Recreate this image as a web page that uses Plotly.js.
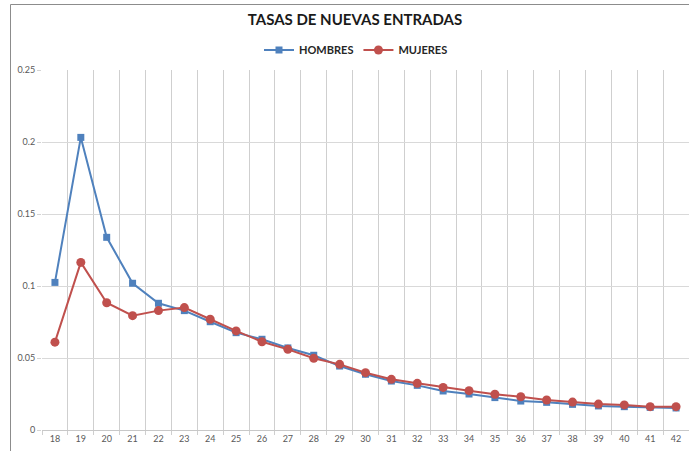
<!DOCTYPE html>
<html>
<head>
<meta charset="utf-8">
<script src="https://cdn.plot.ly/plotly-3.0.1.min.js"></script>
<style>html,body{margin:0;padding:0;background:#fff;}#chart{width:689px;height:451px;}</style>
</head>
<body>
<div id="chart"></div>
<script>
const edades = ["18","19","20","21","22","23","24","25","26","27","28","29","30","31","32","33","34","35","36","37","38","39","40","41","42"];
const hombres = [0.1025,0.2032,0.1338,0.1019,0.0880,0.0829,0.0752,0.0676,0.0630,0.0570,0.0519,0.0444,0.0387,0.0340,0.0310,0.0271,0.0250,0.0225,0.0201,0.0192,0.0178,0.0167,0.0162,0.0157,0.0153];
const mujeres = [0.0610,0.1164,0.0884,0.0794,0.0829,0.0850,0.0769,0.0688,0.0613,0.0560,0.0498,0.0456,0.0398,0.0352,0.0324,0.0296,0.0273,0.0248,0.0231,0.0208,0.0194,0.0180,0.0174,0.0162,0.0162];
const yTicks = [0, 0.05, 0.1, 0.15, 0.2, 0.25];
const yTickText = ["0", "0.05", "0.1", "0.15", "0.2", "0.25"];

const traces = [
  {x: edades, y: hombres, name: "HOMBRES", type: "scatter", mode: "lines+markers",
   line: {color: "#4F81BD", width: 2}, marker: {symbol: "square", size: 7, color: "#4F81BD"}},
  {x: edades, y: mujeres, name: "MUJERES", type: "scatter", mode: "lines+markers",
   line: {color: "#C0504D", width: 2}, marker: {symbol: "circle", size: 9, color: "#C0504D"}}
];

const L = 42, R = 0, T = 70, B = 21, W = 689, H = 451;
const pw = W - L - R, ph = H - T - B;
const px = v => (v - L) / pw;
const py = v => (H - B - v) / ph;

const layout = {
  width: W, height: H,
  margin: {l: L, r: R, t: T, b: B, pad: 0},
  paper_bgcolor: "#fff", plot_bgcolor: "#fff",
  font: {family: "Lato, 'Liberation Sans', sans-serif", color: "#595959", size: 9},
  title: {text: "TASAS DE NUEVAS ENTRADAS", font: {family: "Lato, 'Liberation Sans', sans-serif", size: 15, weight: "bold", color: "#1a1a1a"},
          x: 355 / W, xanchor: "center", xref: "container", y: 1 - 20 / H, yanchor: "middle", yref: "container"},
  showlegend: true,
  legend: {orientation: "h", x: px(356), xanchor: "center", y: py(50), yanchor: "middle",
           font: {family: "Lato, 'Liberation Sans', sans-serif", size: 11, weight: "bold", color: "#262626"},
           itemwidth: 30, bgcolor: "rgba(0,0,0,0)"},
  xaxis: {type: "category", tickson: "boundaries", range: [-0.5, 24.5],
          showgrid: true, gridcolor: "#cfcfcf", gridwidth: 1,
          ticks: "outside", ticklen: 4, tickcolor: "#cfcfcf",
          showline: true, linecolor: "#c8c8c8", linewidth: 1,
          tickfont: {size: 9, color: "#595959"}, fixedrange: true},
  yaxis: {range: [0, 0.25], tickvals: yTicks, ticktext: yTickText,
          showgrid: true, gridcolor: "#d9d9d9", gridwidth: 1, zeroline: false,
          ticks: "outside", ticklen: 4, tickcolor: "#d4d4d4",
          showline: false, tickfont: {size: 9, color: "#595959"}, fixedrange: true},
  shapes: [
    {type: "line", xref: "paper", yref: "paper", x0: px(10.5), x1: px(10.5), y0: py(460), y1: py(4.5), line: {color: "#8c8c8c", width: 1}},
    {type: "line", xref: "paper", yref: "paper", x0: px(10.5), x1: px(700), y0: py(4.5), y1: py(4.5), line: {color: "#8c8c8c", width: 1}}
  ]
};

Plotly.newPlot("chart", traces, layout, {displayModeBar: false, staticPlot: true});
</script>
</body>
</html>
